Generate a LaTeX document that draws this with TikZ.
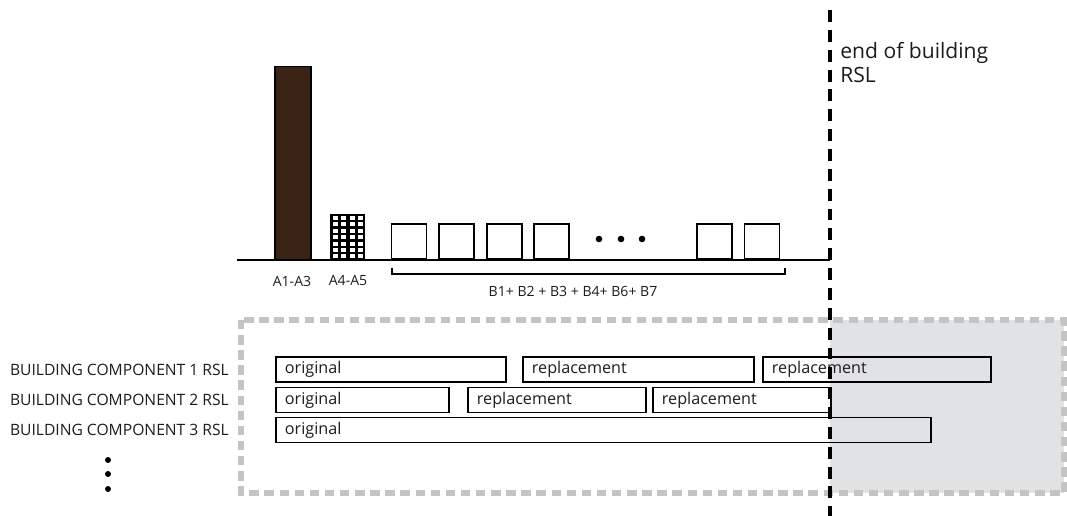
\documentclass[tikz,border=0pt]{standalone}
\usepackage{fontspec}
\setmainfont{Open Sans}
\usepackage{xcolor}
\usetikzlibrary{positioning}
\definecolor{towerbrown}{HTML}{3A2416}
\definecolor{dashgray}{HTML}{C4C4C4}
\definecolor{shadegray}{HTML}{E1E2E4}
\definecolor{inkgray}{HTML}{1E1B1C}

\begin{document}
\begin{tikzpicture}[x=0.02cm, y=-0.02cm,
  every node/.style={font=\fontsize{9.2}{11}\selectfont, text=inkgray},
  unitbox/.style={draw, line width=1.1pt, minimum width=0.7cm, minimum height=0.7cm, inner sep=0pt, anchor=south},
  rslbar/.style={draw, line width=1.1pt, minimum height=0.5cm, inner xsep=0.18cm, inner ysep=0pt, align=left, anchor=west},
  rowlabel/.style={anchor=east, font=\fontsize{8.9}{11}\selectfont},
  smalllabel/.style={font=\fontsize{8}{10}\selectfont}]
  \useasboundingbox (0,0) rectangle (1067,516);

  % shaded zone past the end of the building
  \fill[shadegray] (830,320) rectangle (1064,493);
  \draw[dashgray, line width=3.2pt, dash pattern=on 5.4pt off 3.2pt] (241,320) rectangle (1064,493);

  % ground line
  \coordinate (g0) at (237,260);
  \coordinate (g1) at (830,260);
  \draw[line width=0.8pt] (g0) -- (g1);

  % A1-A3 and A4-A5
  \node[draw, fill=towerbrown, line width=0.8pt, minimum width=0.72cm, minimum height=3.86cm, inner sep=0pt, anchor=south] (tower) at (293,260) {};
  \node[fill=black, minimum width=0.7cm, minimum height=0.92cm, inner sep=0pt, anchor=south] (grid) at (347.5,260) {};
  \foreach \i in {0,...,3}
    \foreach \j in {0,...,6}
      \fill[white] (332.5+8.5*\i,216+6.4*\j) rectangle ++(5.2,4);
  \node[smalllabel] (la) at (292,281) {A1-A3};
  \node[smalllabel] (lb) at (348,281) {A4-A5};

  % B units
  \node[unitbox] (b1) at (409,260) {};
  \node[unitbox] (b2) at (456.5,260) {};
  \node[unitbox] (b3) at (504.5,260) {};
  \node[unitbox] (b4) at (551.5,260) {};
  \node[unitbox] (b5) at (714.5,260) {};
  \node[unitbox] (b6) at (762,260) {};
  \foreach \x in {599,621,642}
    \fill (\x,239) circle (3.3);
  \coordinate (br0) at (392,274);
  \coordinate (br1) at (785,274);
  \draw[line width=0.8pt] ([yshift=0.12cm]br0) -- (br0) -- (br1) -- ([yshift=0.12cm]br1);
  \node[smalllabel] (lbr) at (573,291) {B1+ B2 + B3 + B4+ B6+ B7};

  % component rows
  \node[rowlabel] (c1) at (235,370) {BUILDING COMPONENT 1 RSL};
  \node[rowlabel] (c2) at (235,400) {BUILDING COMPONENT 2 RSL};
  \node[rowlabel] (c3) at (235,430) {BUILDING COMPONENT 3 RSL};
  \foreach \y in {460,474,489}
    \fill (108,\y) circle (3);

  \node[rslbar, text width=4.24cm] (r1a) at (275,369.5) {original};
  \node[rslbar, text width=4.26cm] (r1b) at (522,369.5) {replacement};
  \node[rslbar, text width=4.20cm] (r1c) at (762,369.5) {replacement};
  \node[rslbar, text width=3.10cm] (r2a) at (275,400) {original};
  \node[rslbar, text width=3.20cm] (r2b) at (467,400) {replacement};
  \node[rslbar, text width=3.20cm] (r2c) at (652,400) {replacement};
  \node[rslbar, text width=12.74cm] (r3a) at (275,430) {original};

  % end of building
  \coordinate (endtop) at (830,10);
  \coordinate (endbot) at (830,516);
  \draw[line width=2.2pt, dash pattern=on 6.8pt off 4.5pt] (endtop) -- (endbot);
  \node[anchor=north west, align=left, font=\fontsize{12}{13.6}\selectfont, inner sep=0pt] (endlbl) at (840,42) {end of building\\RSL};
\end{tikzpicture}
\end{document}
